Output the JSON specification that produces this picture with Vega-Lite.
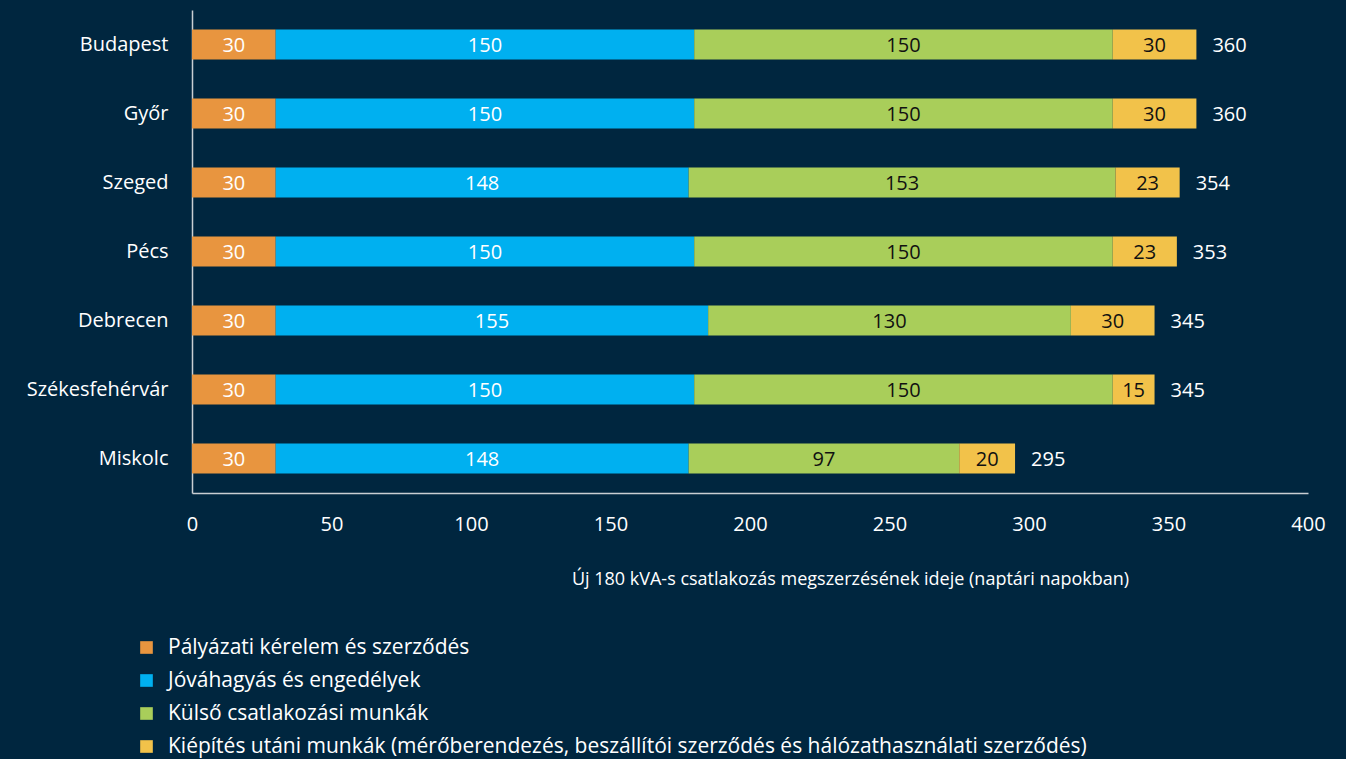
{
  "$schema": "https://vega.github.io/schema/vega-lite/v6.json",
  "width": 1116,
  "height": 483,
  "autosize": {"type": "none"},
  "padding": {"left": 192, "top": 10, "right": 38, "bottom": 266},
  "background": "#00263F",
  "config": {
    "view": {"stroke": null},
    "font": "Open Sans",
    "axis": {"labelColor": "#ffffff", "titleColor": "#ffffff", "labelFont": "Open Sans", "titleFont": "Open Sans"},
    "legend": {"labelColor": "#ffffff", "labelFont": "Open Sans"}
  },
  "data": {
    "values": [
      {"city": "Budapest", "k": 1, "seg": "Pályázati kérelem és szerződés", "value": 30},
      {"city": "Budapest", "k": 2, "seg": "Jóváhagyás és engedélyek", "value": 150},
      {"city": "Budapest", "k": 3, "seg": "Külső csatlakozási munkák", "value": 150},
      {"city": "Budapest", "k": 4, "seg": "Kiépítés utáni munkák (mérőberendezés, beszállítói szerződés és hálózathasználati szerződés)", "value": 30},
      {"city": "Győr", "k": 1, "seg": "Pályázati kérelem és szerződés", "value": 30},
      {"city": "Győr", "k": 2, "seg": "Jóváhagyás és engedélyek", "value": 150},
      {"city": "Győr", "k": 3, "seg": "Külső csatlakozási munkák", "value": 150},
      {"city": "Győr", "k": 4, "seg": "Kiépítés utáni munkák (mérőberendezés, beszállítói szerződés és hálózathasználati szerződés)", "value": 30},
      {"city": "Szeged", "k": 1, "seg": "Pályázati kérelem és szerződés", "value": 30},
      {"city": "Szeged", "k": 2, "seg": "Jóváhagyás és engedélyek", "value": 148},
      {"city": "Szeged", "k": 3, "seg": "Külső csatlakozási munkák", "value": 153},
      {"city": "Szeged", "k": 4, "seg": "Kiépítés utáni munkák (mérőberendezés, beszállítói szerződés és hálózathasználati szerződés)", "value": 23},
      {"city": "Pécs", "k": 1, "seg": "Pályázati kérelem és szerződés", "value": 30},
      {"city": "Pécs", "k": 2, "seg": "Jóváhagyás és engedélyek", "value": 150},
      {"city": "Pécs", "k": 3, "seg": "Külső csatlakozási munkák", "value": 150},
      {"city": "Pécs", "k": 4, "seg": "Kiépítés utáni munkák (mérőberendezés, beszállítói szerződés és hálózathasználati szerződés)", "value": 23},
      {"city": "Debrecen", "k": 1, "seg": "Pályázati kérelem és szerződés", "value": 30},
      {"city": "Debrecen", "k": 2, "seg": "Jóváhagyás és engedélyek", "value": 155},
      {"city": "Debrecen", "k": 3, "seg": "Külső csatlakozási munkák", "value": 130},
      {"city": "Debrecen", "k": 4, "seg": "Kiépítés utáni munkák (mérőberendezés, beszállítói szerződés és hálózathasználati szerződés)", "value": 30},
      {"city": "Székesfehérvár", "k": 1, "seg": "Pályázati kérelem és szerződés", "value": 30},
      {"city": "Székesfehérvár", "k": 2, "seg": "Jóváhagyás és engedélyek", "value": 150},
      {"city": "Székesfehérvár", "k": 3, "seg": "Külső csatlakozási munkák", "value": 150},
      {"city": "Székesfehérvár", "k": 4, "seg": "Kiépítés utáni munkák (mérőberendezés, beszállítói szerződés és hálózathasználati szerződés)", "value": 15},
      {"city": "Miskolc", "k": 1, "seg": "Pályázati kérelem és szerződés", "value": 30},
      {"city": "Miskolc", "k": 2, "seg": "Jóváhagyás és engedélyek", "value": 148},
      {"city": "Miskolc", "k": 3, "seg": "Külső csatlakozási munkák", "value": 97},
      {"city": "Miskolc", "k": 4, "seg": "Kiépítés utáni munkák (mérőberendezés, beszállítói szerződés és hálózathasználati szerződés)", "value": 20}
    ]
  },
  "transform": [
    {"stack": "value", "groupby": ["city"], "sort": [{"field": "k", "order": "ascending"}], "as": ["x0", "x1"]},
    {"calculate": "(datum.x0 + datum.x1) / 2", "as": "xm"}
  ],
  "layer": [
    {
      "mark": {"type": "bar"},
      "encoding": {
        "y": {
          "field": "city", "type": "nominal",
          "sort": ["Budapest", "Győr", "Szeged", "Pécs", "Debrecen", "Székesfehérvár", "Miskolc"],
          "scale": {"paddingInner": 0.565, "paddingOuter": 0.2825},
          "axis": {"title": null, "domain": true, "domainColor": "#c9ced2", "domainWidth": 1.5, "ticks": false, "tickSize": 0, "labelPadding": 24, "labelFontSize": 20}
        },
        "x": {
          "field": "x0", "type": "quantitative",
          "scale": {"domain": [0, 400], "nice": false},
          "axis": {
            "values": [0, 50, 100, 150, 200, 250, 300, 350, 400],
            "grid": false, "ticks": false, "tickSize": 0, "domain": true, "domainColor": "#c9ced2", "domainWidth": 1.5,
            "labelPadding": 21, "labelFontSize": 20, "labelFlush": false,
            "title": "Új 180 kVA-s csatlakozás megszerzésének ideje (naptári napokban)",
            "titleFontSize": 18, "titleFontWeight": "normal", "titleX": 658, "titleY": 91, "titleBaseline": "alphabetic", "titleAlign": "center", "titleAnchor": null
          }
        },
        "x2": {"field": "x1"},
        "color": {
          "field": "seg", "type": "nominal",
          "scale": {
            "domain": ["Pályázati kérelem és szerződés", "Jóváhagyás és engedélyek", "Külső csatlakozási munkák", "Kiépítés utáni munkák (mérőberendezés, beszállítói szerződés és hálózathasználati szerződés)"],
            "range": ["#E8953F", "#00B0F0", "#A9CE5A", "#F2C24A"]
          },
          "legend": {
            "title": null, "orient": "none", "legendX": -56, "legendY": 627, "direction": "vertical",
            "symbolType": "square", "symbolSize": 160, "symbolStrokeWidth": 0, "symbolOpacity": 1,
            "labelFontSize": 21, "labelOffset": 11, "labelLimit": 1200, "rowPadding": 11, "padding": 0
          }
        }
      }
    },
    {
      "mark": {"type": "text", "fontSize": 20, "baseline": "middle", "align": "center", "dy": 1},
      "encoding": {
        "y": {"field": "city", "type": "nominal", "sort": ["Budapest", "Győr", "Szeged", "Pécs", "Debrecen", "Székesfehérvár", "Miskolc"]},
        "x": {"field": "xm", "type": "quantitative"},
        "text": {"field": "value", "type": "quantitative"},
        "color": {"condition": {"test": "datum.k >= 3", "value": "#111111"}, "value": "#ffffff"}
      }
    },
    {
      "transform": [{"aggregate": [{"op": "max", "field": "x1", "as": "total"}], "groupby": ["city"]}],
      "mark": {"type": "text", "fontSize": 20, "baseline": "middle", "align": "left", "dx": 16, "dy": 1, "color": "#ffffff"},
      "encoding": {
        "y": {"field": "city", "type": "nominal", "sort": ["Budapest", "Győr", "Szeged", "Pécs", "Debrecen", "Székesfehérvár", "Miskolc"]},
        "x": {"field": "total", "type": "quantitative"},
        "text": {"field": "total", "type": "quantitative"}
      }
    }
  ]
}
